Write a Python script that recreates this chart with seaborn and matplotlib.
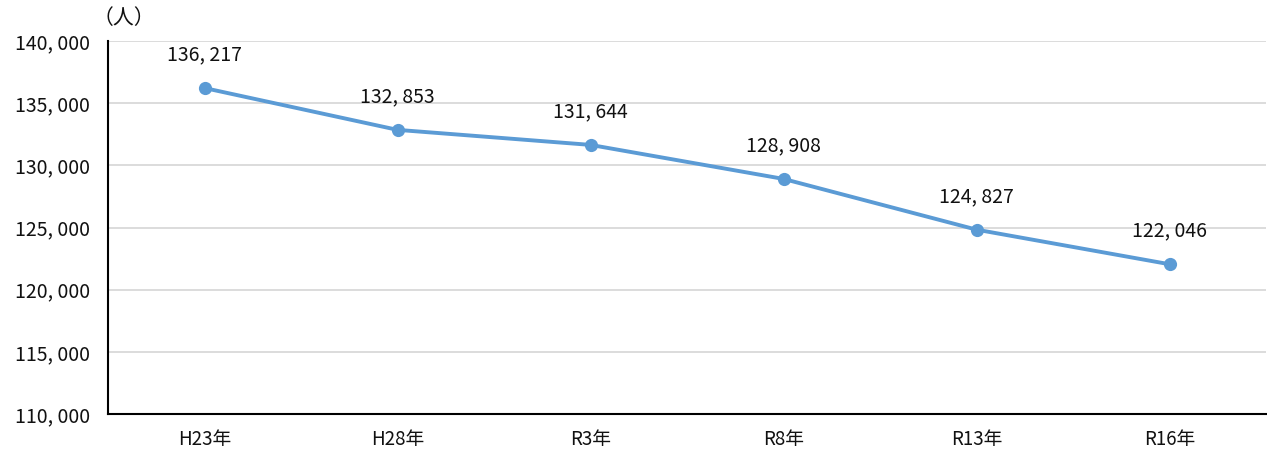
import matplotlib
matplotlib.use("Agg")
import matplotlib.pyplot as plt
import seaborn as sns
import pandas as pd

categories = ["H23年", "H28年", "R3年", "R8年", "R13年", "R16年"]
values = [136217, 132853, 131644, 128908, 124827, 122046]
yticks = [110000, 115000, 120000, 125000, 130000, 135000, 140000]
unit_label = "（人）"

sns.set_theme(style="white")
plt.rcParams['font.family'] = ['Noto Sans CJK JP', 'DejaVu Sans']

df = pd.DataFrame({"cat": categories, "val": values})

fig = plt.figure(figsize=(12.67, 4.57), dpi=100)
ax = fig.add_axes([108/1267, 43/457, (1266-108)/1267, (414-41)/457])

sns.lineplot(data=df, x="cat", y="val", ax=ax, color="#5B9BD5", linewidth=2.8,
             marker="o", markersize=9.5, markeredgewidth=0, sort=False)

ax.set_xlim(-0.5, len(categories) - 0.5)
ax.set_ylim(yticks[0], yticks[-1])
ax.set_yticks(yticks)
ax.set_yticklabels([f"{v:,}".replace(",", ", ") for v in yticks], fontsize=14, color="#111111")
ax.set_xticks(range(len(categories)))
ax.set_xticklabels(categories, fontsize=13.5, color="#111111")
ax.tick_params(axis="y", length=0, pad=13)
ax.tick_params(axis="x", length=0, pad=11)
ax.set_xlabel("")
ax.set_ylabel("")

ax.grid(axis="y", color="#D9D9D9", linewidth=1.3)
ax.set_axisbelow(True)
for s in ["top", "right"]:
    ax.spines[s].set_visible(False)
for s in ["left", "bottom"]:
    ax.spines[s].set_color("black")
    ax.spines[s].set_linewidth(1.5)

for i, v in enumerate(values):
    ax.annotate(f"{v:,}".replace(",", ", "), (i, v), xytext=(0, 24), textcoords="offset points",
                ha="center", va="center", fontsize=14, color="#111111")

fig.text(93/1267, 1 - 18/457, unit_label, fontsize=15, ha="left", va="center", color="#111111")

fig.savefig("out.png", dpi=100)
